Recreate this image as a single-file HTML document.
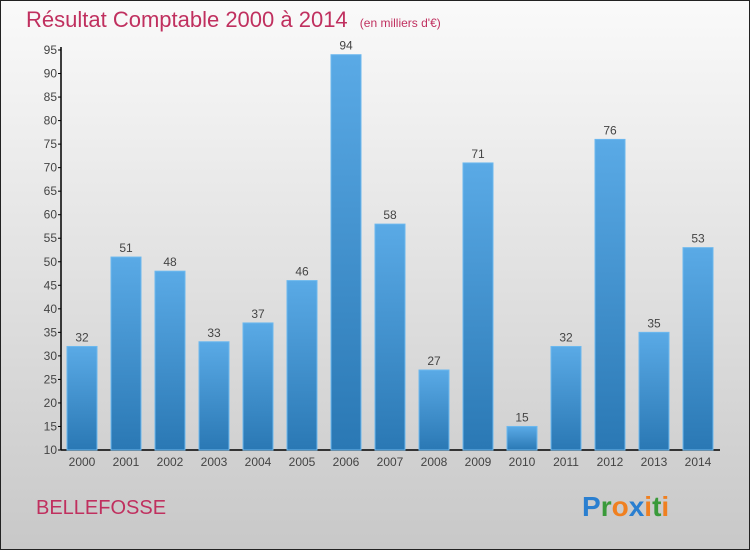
<!DOCTYPE html>
<html><head><meta charset="utf-8"><style>
body{margin:0;}
#wrap{width:750px;height:550px;position:relative;font-family:"Liberation Sans",sans-serif;}
svg{display:block}
</style></head><body>
<div id="wrap">
<svg id="chart" width="750" height="550" xmlns="http://www.w3.org/2000/svg">
<defs>
<linearGradient id="bg" x1="0" y1="0" x2="0" y2="1"><stop offset="0" stop-color="#fafafa"/><stop offset="1" stop-color="#c8c8c8"/></linearGradient>
<linearGradient id="bar" x1="0" y1="0" x2="0" y2="1"><stop offset="0" stop-color="#5aaae6"/><stop offset="1" stop-color="#2a78b4"/></linearGradient>
</defs>
<rect x="0.5" y="0.5" width="749" height="549" fill="url(#bg)" stroke="#222"/>
<text x="26" y="27" font-size="22" fill="#c0305f">Résultat Comptable 2000 à 2014 <tspan font-size="12" dx="6">(en milliers d'€)</tspan></text>
<g id="axes"></g>
<g id="bars"></g>
<text x="36" y="514" font-size="20" fill="#c0305f">BELLEFOSSE</text>
<text x="582" y="516" font-size="28" font-weight="bold"><tspan fill="#2a7fd0">P</tspan><tspan fill="#3a9a3a">r</tspan><tspan fill="#f08020">o</tspan><tspan fill="#2a7fd0">x</tspan><tspan fill="#f08020">i</tspan><tspan fill="#3a9a3a">t</tspan><tspan fill="#f08020">i</tspan></text>
</svg>
</div>
<script>
const years=["2000","2001","2002","2003","2004","2005","2006","2007","2008","2009","2010","2011","2012","2013","2014"];
const values=[32,51,48,33,37,46,94,58,27,71,15,32,76,35,53];
const yTicks=[10,15,20,25,30,35,40,45,50,55,60,65,70,75,80,85,90,95];
const NS="http://www.w3.org/2000/svg";
const yMin=10,yMax=95,y0=450,y1=50,xL=61,xR=720;
function yScale(v){return y0-(v-yMin)/(yMax-yMin)*(y0-y1);}
function xScale(i){return 82+i*44;}
function mk(tag,attrs,parent){const e=document.createElementNS(NS,tag);for(const k in attrs)e.setAttribute(k,attrs[k]);parent.appendChild(e);return e;}
const axes=document.getElementById('axes'),bars=document.getElementById('bars');
let l=mk('line',{x1:xL,y1:y1-3,x2:xL,y2:y0,stroke:'#000','stroke-width':1.5},axes);


l=mk('line',{x1:xL,y1:y0,x2:xR,y2:y0,stroke:'#000','stroke-width':1.5},axes);


yTicks.forEach(t=>{const y=yScale(t);
 mk('line',{x1:xL-3,y1:y,x2:xL,y2:y,stroke:'#000'},axes);
 const tx=mk('text',{x:xL-4,y:y+4,'font-size':12,'text-anchor':'end',fill:'#444'},axes);
 tx.textContent=t;
 
 
});
values.forEach((v,i)=>{const cx=xScale(i),y=yScale(v);
 const r=mk('rect',{x:cx-15,y:y,width:30,height:y0-y,fill:'url(#bar)',stroke:'#6cb8ee','stroke-width':1},bars);
 
 
 const t=mk('text',{x:cx,y:y-5,'font-size':12,'text-anchor':'middle',fill:'#444'},bars);
 t.textContent=v;
 
 
 const xl=mk('text',{x:cx,y:466,'font-size':12,'text-anchor':'middle',fill:'#444'},bars);
 xl.textContent=years[i];
 
 
});
</script>
</body></html>
